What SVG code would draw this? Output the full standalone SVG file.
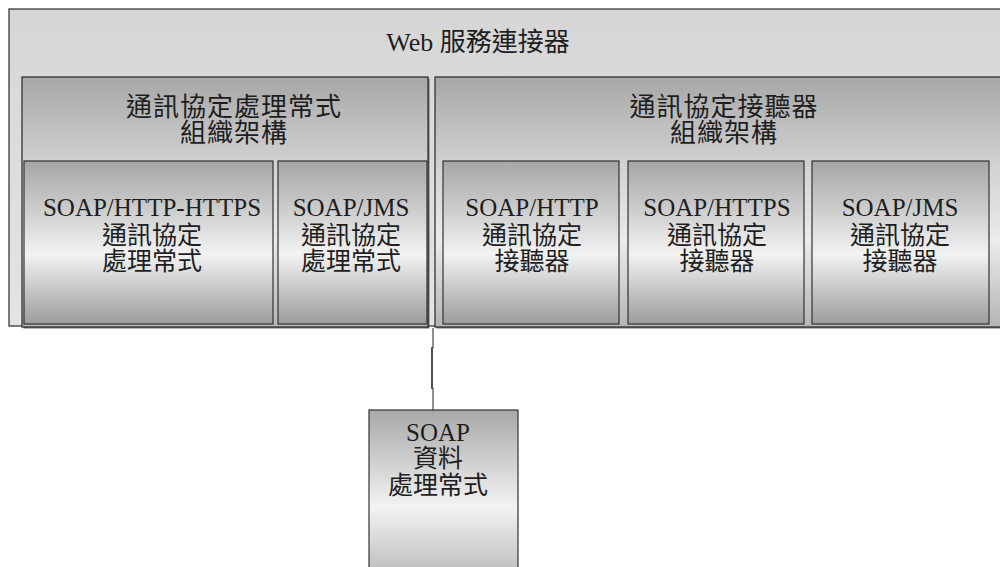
<svg xmlns="http://www.w3.org/2000/svg" width="1000" height="567" viewBox="0 0 1000 567">
  <defs>
    <linearGradient id="gOuter" x1="0" y1="0" x2="0" y2="1">
      <stop offset="0" stop-color="#d6d6d6"/>
      <stop offset="1" stop-color="#e4e4e4"/>
    </linearGradient>
    <linearGradient id="gInner" x1="0" y1="0" x2="0" y2="1">
      <stop offset="0" stop-color="#a7a7a7"/>
      <stop offset="0.35" stop-color="#d2d2d2"/>
      <stop offset="0.66" stop-color="#ebebeb"/>
      <stop offset="1" stop-color="#b4b4b4"/>
    </linearGradient>
    <linearGradient id="gSub" x1="0" y1="0" x2="0" y2="1">
      <stop offset="0" stop-color="#a6a6a6"/>
      <stop offset="0.3" stop-color="#cdcdcd"/>
      <stop offset="0.57" stop-color="#f3f3f3"/>
      <stop offset="1" stop-color="#9c9c9c"/>
    </linearGradient>
    <linearGradient id="gData" x1="0" y1="0" x2="0" y2="1">
      <stop offset="0" stop-color="#a8a8a8"/>
      <stop offset="0.57" stop-color="#f3f3f3"/>
      <stop offset="1" stop-color="#b8b8b8"/>
    </linearGradient>
  </defs>
  <style>
    .outer { fill: url(#gOuter); stroke: #3a3a3a; stroke-width: 1.3; }
    .inner { fill: url(#gInner); stroke: #333; stroke-width: 1.3; }
    .sub { fill: url(#gSub); stroke: #333; stroke-width: 1.2; }
    .data { fill: url(#gData); stroke: #333; stroke-width: 1.2; }
    .shadow { fill: #6a6a6a; }
    text { font-family: "Liberation Serif", "Noto Sans CJK TC", serif; fill: #1e1e1e; text-anchor: middle; }
    .cjk { font-family: "Noto Sans CJK TC", "Noto Sans CJK SC", sans-serif; }
    .t1 { font-size: 26px; }
    .t2 { font-size: 26px; letter-spacing: 1px; }
    .t3 { font-size: 25px; }
    .conn { stroke: #222; stroke-width: 1; fill: none; }
  </style>

  <g id="web-service-connector">
    <rect class="outer" x="9" y="9" width="1000" height="317"/>
    <text class="t1" x="478" y="51">Web <tspan class="cjk">服務連接器</tspan></text>
  </g>

  <g id="protocol-handler-framework">
    <rect class="shadow" x="23.5" y="78.5" width="406" height="250"/>
    <rect class="inner" x="22" y="77" width="406" height="250"/>
    <text class="t2 cjk" x="234" y="116">通訊協定處理常式</text>
    <text class="t2 cjk" x="234" y="142">組織架構</text>
  </g>

  <g id="protocol-listener-framework">
    <rect class="shadow" x="436.5" y="78.5" width="580" height="250"/>
    <rect class="inner" x="435" y="77" width="580" height="250"/>
    <text class="t2 cjk" x="724" y="116">通訊協定接聽器</text>
    <text class="t2 cjk" x="724" y="142">組織架構</text>
  </g>

  <g id="soap-http-https-handler">
    <rect class="sub" x="24" y="161" width="249" height="163"/>
    <text class="t3" x="152" y="216">SOAP/HTTP-HTTPS</text>
    <text class="t3 cjk" x="152" y="244">通訊協定</text>
    <text class="t3 cjk" x="152" y="270">處理常式</text>
  </g>

  <g id="soap-jms-handler">
    <rect class="sub" x="278" y="161" width="149" height="163"/>
    <text class="t3" x="351" y="216">SOAP/JMS</text>
    <text class="t3 cjk" x="351" y="244">通訊協定</text>
    <text class="t3 cjk" x="351" y="270">處理常式</text>
  </g>

  <g id="soap-http-listener">
    <rect class="sub" x="443" y="161" width="176" height="163"/>
    <text class="t3" x="532" y="216">SOAP/HTTP</text>
    <text class="t3 cjk" x="532" y="244">通訊協定</text>
    <text class="t3 cjk" x="532" y="270">接聽器</text>
  </g>

  <g id="soap-https-listener">
    <rect class="sub" x="628" y="161" width="176" height="163"/>
    <text class="t3" x="717" y="216">SOAP/HTTPS</text>
    <text class="t3 cjk" x="717" y="244">通訊協定</text>
    <text class="t3 cjk" x="717" y="270">接聽器</text>
  </g>

  <g id="soap-jms-listener">
    <rect class="sub" x="812" y="161" width="177" height="163"/>
    <text class="t3" x="900" y="216">SOAP/JMS</text>
    <text class="t3 cjk" x="900" y="244">通訊協定</text>
    <text class="t3 cjk" x="900" y="270">接聽器</text>
  </g>

  <g id="connectors">
    <path class="conn" d="M433,328 V348"/>
    <path class="conn" d="M432,347 V389" style="stroke-width:1.6"/>
    <path class="conn" d="M433,388 V410"/>
  </g>

  <g id="soap-data-handler">
    <rect class="data" x="369" y="410" width="149" height="170"/>
    <text class="t3" x="438" y="441">SOAP</text>
    <text class="t3 cjk" x="438" y="467">資料</text>
    <text class="t3 cjk" x="438" y="494">處理常式</text>
  </g>
</svg>
